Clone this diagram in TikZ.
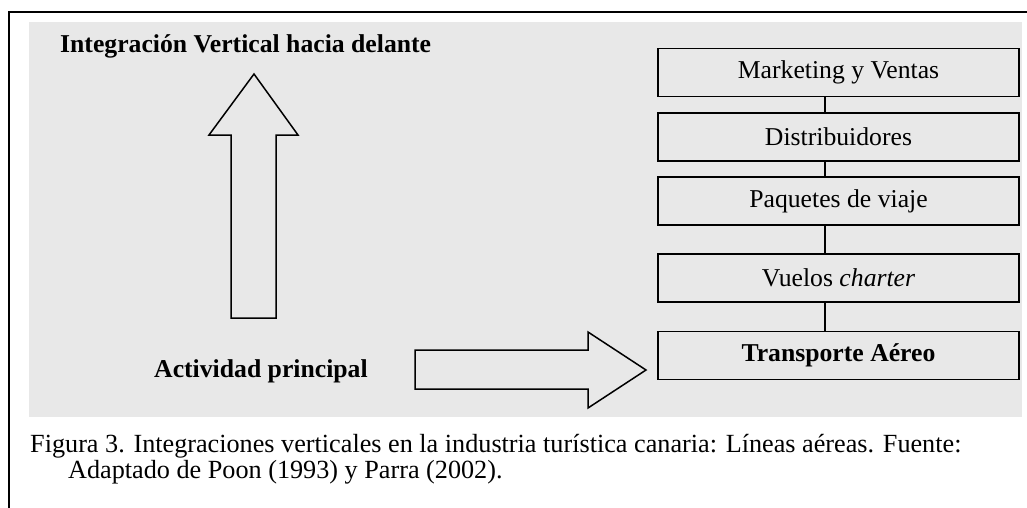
\documentclass[tikz,border=0pt]{standalone}
\usepackage{fontspec}
\setmainfont{Liberation Serif}
\definecolor{bg}{HTML}{E8E8E8}
\begin{document}
\begin{tikzpicture}[x=1pt,y=-1pt,
  box/.style={draw=black,line width=1.3pt,minimum width=361pt,minimum height=48pt,inner sep=0pt,font=\fontsize{25.7}{30}\selectfont},
  link/.style={draw=black,line width=1.3pt},
  blockarrow/.style={draw=black,line width=1.5pt,fill=bg,line join=miter},
  lbl/.style={inner sep=0pt,anchor=base west,font=\fontsize{25.7}{30}\selectfont\bfseries},
  captext/.style={inner sep=0pt,anchor=base west,font=\fontsize{26.2}{30}\selectfont}]
\useasboundingbox (0,0) rectangle (1027,508);
\fill[white] (0,0) rectangle (1027,508);
\draw[line width=2pt] (8.5,508) -- (8.5,12) -- (1027,12);
\fill[bg] (29,22) rectangle (1022,417);
\node[lbl] (title) at (60,53) {Integración Vertical hacia delante};
\node[lbl] (act) at (154,377) {Actividad principal};
\draw[blockarrow] (231,318) -- (231,135) -- (209,135) -- (254,74) -- (298,135) -- (276,135) -- (276,318) -- cycle;
\draw[blockarrow] (415,350) -- (588,350) -- (588,332) -- (646,370) -- (588,408) -- (588,389) -- (415,389) -- cycle;
\node[box] (m) at (838.5,72.5) {Marketing y Ventas};
\node[box] (d) at (838.5,137) {Distribuidores};
\node[box] (p) at (838.5,201) {Paquetes de viaje};
\node[box] (v) at (838.5,278) {Vuelos \textit{charter}};
\node[box] (t) at (838.5,355.5) {\textbf{Transporte Aéreo}};
\draw[link] ([xshift=-13.5pt]m.south) -- ([xshift=-13.5pt]d.north);
\draw[link] ([xshift=-13.5pt]d.south) -- ([xshift=-13.5pt]p.north);
\draw[link] ([xshift=-13.5pt]p.south) -- ([xshift=-13.5pt]v.north);
\draw[link] ([xshift=-13.5pt]v.south) -- ([xshift=-13.5pt]t.north);
\node[captext] (c1) at (30,452) {Figura 3. Integraciones verticales en la industria turística canaria: Líneas aéreas. Fuente:};
\node[captext] (c2) at (68,478) {Adaptado de Poon (1993) y Parra (2002).};
\end{tikzpicture}
\end{document}
